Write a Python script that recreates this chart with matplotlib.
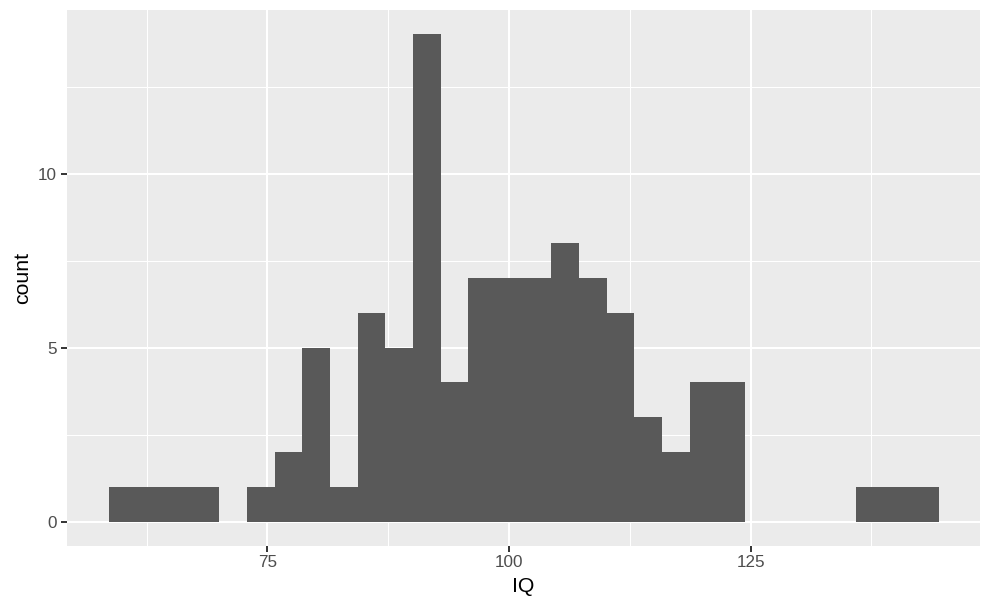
import matplotlib
matplotlib.use("Agg")
import matplotlib.pyplot as plt
import numpy as np

# Histogram data (ggplot2, 30 bins)
iq_min = 60.0
iq_max = 143.0
n_bins = 30
counts = [1, 1, 1, 1, 0, 1, 2, 5, 1, 6, 5, 14, 4, 7, 7, 7, 8, 7, 6, 3, 2, 4, 4, 0, 0, 0, 0, 1, 1, 1]
x_ticks = [75, 100, 125]
y_ticks = [0, 5, 10]

binwidth = (iq_max - iq_min) / (n_bins - 1)
edges = iq_min - binwidth / 2 + binwidth * np.arange(n_bins + 1)

plt.rcParams['font.family'] = ['Liberation Sans', 'DejaVu Sans']
fig = plt.figure(figsize=(9.91, 6.12), dpi=100)
W, H = 991, 612
ax = fig.add_axes([67 / W, (H - 546) / H, (980 - 67) / W, (546 - 10) / H])
ax.set_facecolor('#EBEBEB')
for s in ax.spines.values():
    s.set_visible(False)

# limits with ggplot expansion
lo, hi = edges[0], edges[-1]
pad = 0.05 * (hi - lo)
ax.set_xlim(lo - pad, hi + pad)
ymax = max(counts)
ax.set_ylim(-0.05 * ymax, ymax * 1.05)

# grid
xminor = [62.5, 87.5, 112.5, 137.5]
yminor = [2.5, 7.5, 12.5]
for v in xminor:
    ax.axvline(v, color='white', lw=0.75, zorder=0.5)
for v in yminor:
    ax.axhline(v, color='white', lw=0.75, zorder=0.5)
for v in x_ticks:
    ax.axvline(v, color='white', lw=1.5, zorder=0.6)
for v in y_ticks:
    ax.axhline(v, color='white', lw=1.5, zorder=0.6)

ax.stairs(counts, edges, fill=True, color='#595959', zorder=2, linewidth=0)

ax.set_xticks(x_ticks)
ax.set_yticks(y_ticks)
ax.tick_params(axis='both', colors='#333333', length=4.0, width=1.4, labelsize=12.3,
               labelcolor='#4D4D4D')
ax.tick_params(axis='x', pad=2.2)
ax.tick_params(axis='y', pad=3.5)
ax.set_xlabel('IQ', fontsize=15.3, color='black', labelpad=5.5)
ax.set_ylabel('count', fontsize=15.3, color='black', labelpad=4)

fig.savefig('out.png', dpi=100, facecolor='white')
